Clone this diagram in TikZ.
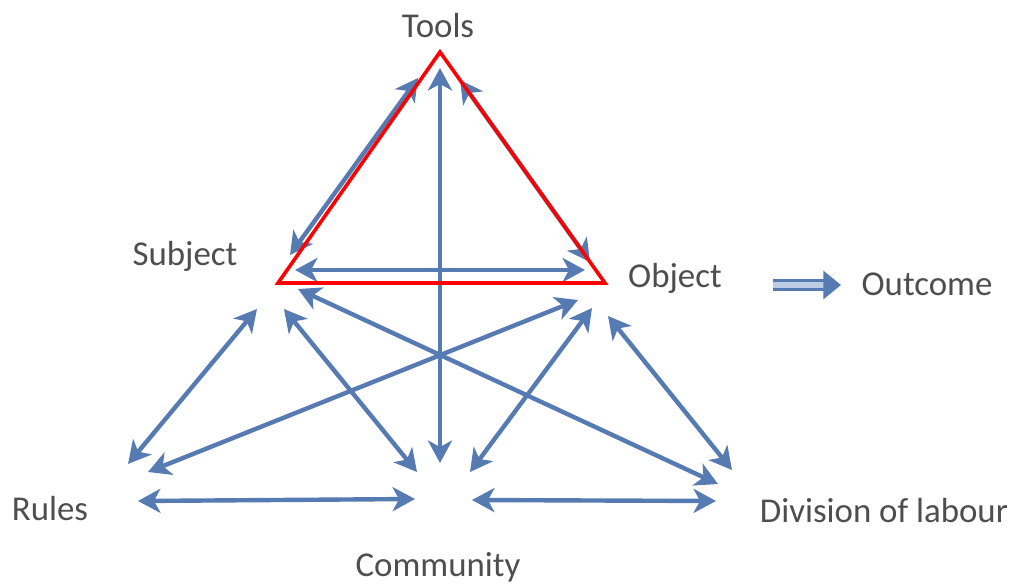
\documentclass[tikz,border=0pt]{standalone}
\usepackage{fontspec}
\setmainfont{Carlito}
\usetikzlibrary{arrows.meta}
\definecolor{ArrowBlue}{RGB}{86,122,178}
\definecolor{LightBlue}{RGB}{190,205,228}
\definecolor{TextGray}{RGB}{78,78,78}
\tikzset{
  label/.style={text=TextGray, inner sep=0pt, anchor=base,
    font=\fontsize{24.8}{30}\selectfont},
  link/.style={draw=ArrowBlue, line width=1.1mm,
    {Stealth[length=5.6mm,width=6mm,inset=1.6mm]}-{Stealth[length=5.6mm,width=6mm,inset=1.6mm]}},
  outcome/.style={draw=ArrowBlue, line width=0.8mm, double=LightBlue,
    double distance=1.3mm, -{Triangle[length=4.4mm,width=7mm]}}
}
\begin{document}
\begin{tikzpicture}[x=0.25mm,y=-0.25mm]
  \useasboundingbox (0,0) rectangle (1015,584);
  % labels
  \node[label] (tools) at (438,37) {Tools};
  \node[label] (subj)  at (185,265) {Subject};
  \node[label] (obj)   at (675,287) {Object};
  \node[label] (out)   at (927,295) {Outcome};
  \node[label] (rules) at (50,520) {Rules};
  \node[label] (comm)  at (438,576) {Community};
  \node[label] (div)   at (884,522) {Division of labour};
  % arrow ends
  \coordinate (tC) at (440,68);   \coordinate (cT) at (440,463);
  \coordinate (tS) at (418,78);   \coordinate (sT) at (290,255);
  \coordinate (tO) at (460,80);   \coordinate (oT) at (590,262);
  \coordinate (sO) at (295,270);  \coordinate (oS) at (585,270);
  \coordinate (sR) at (257,309);  \coordinate (rS) at (128,464);
  \coordinate (sC) at (284,309);  \coordinate (cS) at (417,472);
  \coordinate (sD) at (298,289);  \coordinate (dS) at (718,484);
  \coordinate (oR) at (578,300);  \coordinate (rO) at (148,472);
  \coordinate (oC) at (592,308);  \coordinate (cO) at (470,472);
  \coordinate (oD) at (608,316);  \coordinate (dO) at (732,470);
  \coordinate (rC) at (138,501);  \coordinate (cR) at (415,499);
  \coordinate (cD) at (472,500);  \coordinate (dC) at (716,501);
  \coordinate (oOut) at (773,285); \coordinate (outO) at (841,285);
  % edges
  \draw[link] (tC) -- (cT);
  \draw[link] (tS) -- (sT);
  \draw[link] (tO) -- (oT);
  \draw[link] (sO) -- (oS);
  \draw[link] (sR) -- (rS);
  \draw[link] (sC) -- (cS);
  \draw[link] (sD) -- (dS);
  \draw[link] (oR) -- (rO);
  \draw[link] (oC) -- (cO);
  \draw[link] (oD) -- (dO);
  \draw[link] (rC) -- (cR);
  \draw[link] (cD) -- (dC);
  \draw[outcome] (oOut) -- (outO);
  % red triangle
  \draw[red, line width=0.9mm, line join=miter] (440,52) -- (278,283) -- (605,283) -- cycle;
\end{tikzpicture}
\end{document}
